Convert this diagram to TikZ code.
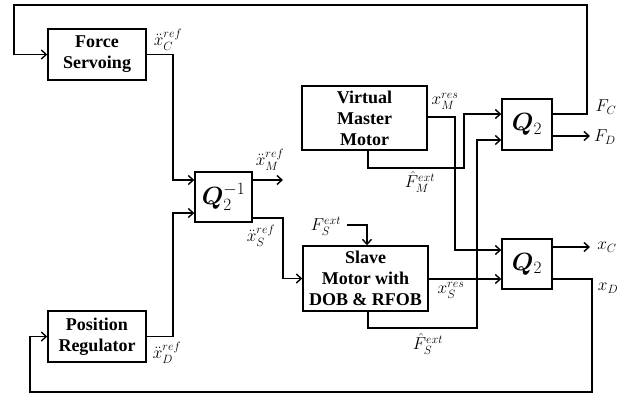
\documentclass[tikz,border=0pt]{standalone}
\usepackage{fontspec}
\usepackage{amsmath,bm}
\setmainfont{Liberation Serif}
\usetikzlibrary{arrows.meta}
\begin{document}
\begin{tikzpicture}[x=1pt,y=-1pt,
  blk/.style={draw,line width=1.4pt,inner sep=0pt,align=center,
    font=\fontsize{18}{21}\selectfont\bfseries},
  qbox/.style={draw,line width=1.4pt,inner sep=0pt,font=\fontsize{25.5}{25.5}\selectfont},
  arr/.style={line width=1.4pt,-{Straight Barb[length=5pt,width=9pt]}},
  lbl/.style={inner sep=0pt,font=\fontsize{17.5}{19}\selectfont}]
\useasboundingbox (0,0) rectangle (634,399);
% blocks
\node[blk,minimum width=98pt,minimum height=51pt] (fs) at (97,54.5) {Force\\Servoing};
\node[blk,minimum width=98pt,minimum height=51pt] (pr) at (97,336.5) {Position\\Regulator};
\node[qbox,minimum width=57pt,minimum height=50pt] (qi) at (223.5,197) {$\bm{Q}_2^{-1}$};
\node[blk,minimum width=125pt,minimum height=64pt] (vm) at (364.5,118) {Virtual\\Master\\Motor};
\node[blk,minimum width=125pt,minimum height=65pt] (sm) at (365.5,278.5) {Slave\\Motor with\\DOB \& RFOB};
\node[qbox,minimum width=50pt,minimum height=51pt] (qa) at (527,124.5) {$\bm{Q}_2$};
\node[qbox,minimum width=50pt,minimum height=50pt] (qb) at (527,264) {$\bm{Q}_2$};
% helper coordinates
\coordinate (y114) at (0,114);
\coordinate (y117) at (0,117);
\coordinate (y136) at (0,136);
\coordinate (y247) at (0,247);
\coordinate (y279) at (0,279);
\coordinate (x367) at (367,0);
\coordinate (x368) at (368,0);
% free ends
\coordinate (xmref) at (283,180);
\coordinate (fd) at (590,136);
\coordinate (xc) at (590,247);
\coordinate (fsext) at (347,225);
% connectors
\draw[arr] (fs.east) -- (173,54.5) |- ([yshift=17pt]qi.west);
\draw[arr] (pr.east) -- (173,336.5) |- ([yshift=-16pt]qi.west);
\draw[arr] ([yshift=17pt]qi.east) -- (xmref);
\draw[arr] ([yshift=-21pt]qi.east) -- (283,218) |- (sm.west);
\draw[arr] (vm.east |- y117) -- (455,117) |- ([yshift=14pt]qb.west);
\draw[arr] (sm.east |- y279) -- (qb.west |- y279);
\draw[arr] (vm.south -| x368) -- (368,168) -- (464,168) |- (qa.west |- y114);
\draw[arr] (sm.south -| x368) -- (368,328) -- (477,328) |- ([yshift=-15.5pt]qa.west);
\draw[arr] (qa.east |- y114) -- (587,114) -- (587,5) -- (14,5) |- (fs.west);
\draw[arr] (qa.east |- y136) -- (fd);
\draw[arr] (qb.east |- y247) -- (xc);
\draw[arr] (qb.east |- y279) -- (592,279) -- (592,392) -- (30,392) |- (pr.west);
\draw[arr] (fsext) -- (367,225) -- (sm.north -| x367);
% labels
\node[lbl] (l1) at (168,40) {$\ddot{x}_C^{ref}$};
\node[lbl] (l2) at (270,160) {$\ddot{x}_M^{ref}$};
\node[lbl] (l3) at (261,236) {$\ddot{x}_S^{ref}$};
\node[lbl] (l4) at (167,353) {$\ddot{x}_D^{ref}$};
\node[lbl] (l5) at (445,101) {$x_M^{res}$};
\node[lbl] (l6) at (420,182) {$\hat{F}_M^{ext}$};
\node[lbl] (l7) at (326,226) {$F_S^{ext}$};
\node[lbl] (l8) at (451,290) {$x_S^{res}$};
\node[lbl] (l9) at (428,344) {$\hat{F}_S^{ext}$};
\node[lbl] (l10) at (606,107) {$F_C$};
\node[lbl] (l11) at (605,137) {$F_D$};
\node[lbl] (l12) at (607,247) {$x_C$};
\node[lbl] (l13) at (608,288) {$x_D$};
\end{tikzpicture}
\end{document}
